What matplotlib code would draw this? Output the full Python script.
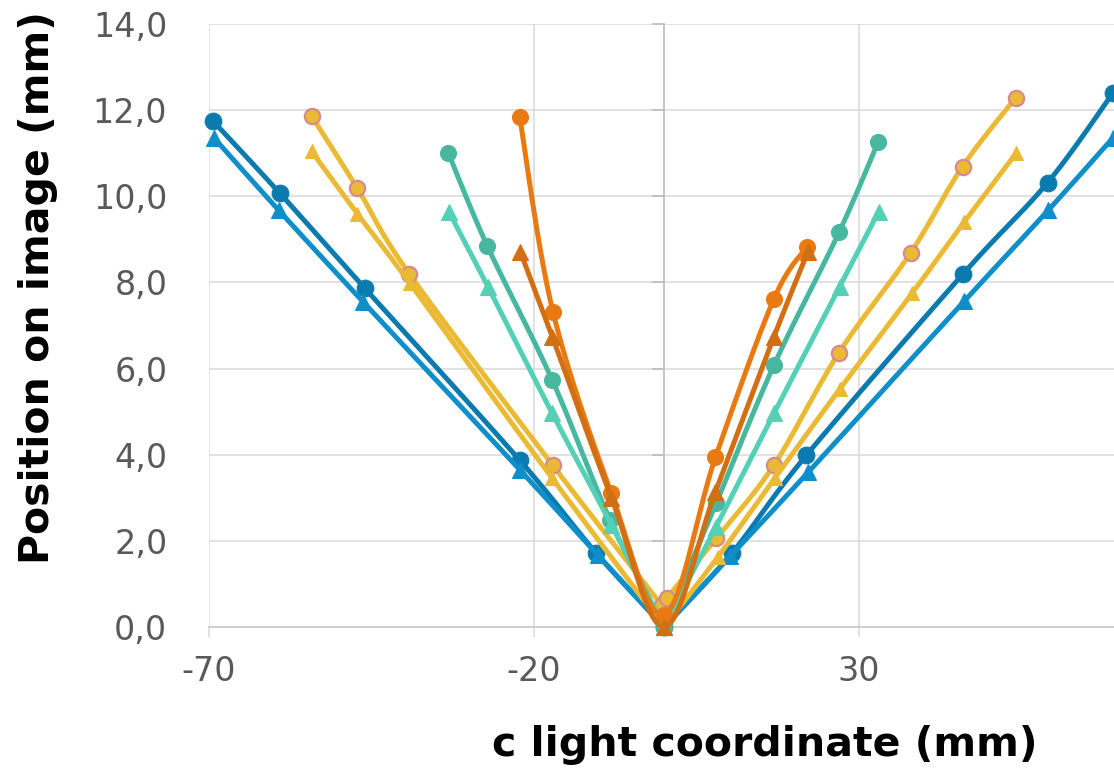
import numpy as np
import matplotlib
matplotlib.use("Agg")
import matplotlib.pyplot as plt
from matplotlib.ticker import FuncFormatter

# ---------------- data ----------------
x_ticks = [-70, -20, 30, 80]
y_ticks = [0, 2, 4, 6, 8, 10, 12, 14]

# dark blue circles
s1_x = [-69.4, -59.1, -46.0, -22.2, -10.4, 0.0, 10.4, 21.9, 46.0, 59.0, 69.0]
s1_y = [11.75, 10.07, 7.86, 3.87, 1.71, 0.0, 1.71, 3.99, 8.20, 10.32, 12.39]
# light blue triangles
s2_x = [-69.2, -59.3, -46.3, -22.2, -10.2, 0.0, 10.2, 22.2, 46.2, 59.1, 69.0]
s2_y = [11.35, 9.68, 7.55, 3.65, 1.67, 0.0, 1.65, 3.60, 7.57, 9.68, 11.35]
# yellow circles (pink edge)
s3_x = [-54.2, -47.2, -39.2, -17.1, -0.4, 0.4, 8.05, 16.9, 26.9, 37.9, 45.9, 54.1]
s3_y = [11.86, 10.19, 8.20, 3.75, 0.51, 0.67, 2.06, 3.76, 6.37, 8.68, 10.69, 12.29]
# yellow triangles
s4_x = [-54.2, -47.2, -39.1, -17.2, 0.0, 8.3, 17.0, 27.0, 38.2, 46.2, 54.2]
s4_y = [11.04, 9.60, 7.98, 3.45, 0.0, 1.63, 3.45, 5.52, 7.76, 9.41, 11.01]
# teal circles
s5_x = [-33.2, -27.2, -17.2, -8.3, 0.0, 8.0, 16.9, 26.9, 32.9]
s5_y = [11.01, 8.85, 5.73, 2.48, 0.0, 2.87, 6.08, 9.16, 11.25]
# light teal triangles
s6_x = [-33.1, -27.1, -17.2, -8.1, 0.0, 8.0, 16.9, 27.0, 33.0]
s6_y = [9.64, 7.90, 4.96, 2.37, 0.0, 2.33, 4.96, 7.90, 9.64]
# orange circles
s7_x = [-22.2, -17.1, -8.1, 0.0, 7.9, 16.9, 22.0]
s7_y = [11.83, 7.32, 3.10, 0.28, 3.94, 7.62, 8.83]
# dark orange triangles
s8_x = [-22.1, -17.2, -8.1, 0.0, 7.9, 16.9, 22.1]
s8_y = [8.71, 6.74, 3.00, 0.0, 3.14, 6.74, 8.71]

# (x, y, colour, marker, edge colour, marker size, smooth through the vertex?)
series = [
    (s1_x, s1_y, "#0B7BAF", "o", "#0B7BAF", 12.0, False),
    (s2_x, s2_y, "#0F8FC9", "^", "#0F8FC9", 11.0, False),
    (s3_x, s3_y, "#EBBA34", "o", "#D48A8E", 11.0, False),
    (s4_x, s4_y, "#EBBA34", "^", "#EBBA34", 10.5, False),
    (s5_x, s5_y, "#47B89F", "o", "#47B89F", 11.5, False),
    (s6_x, s6_y, "#53D0B5", "^", "#53D0B5", 11.0, False),
    (s7_x, s7_y, "#E97A12", "o", "#E97A12", 11.5, True),
    (s8_x, s8_y, "#D26E13", "^", "#D26E13", 11.0, True),
]


def smooth(xs, ys, n=24):
    pts = np.column_stack([xs, ys]).astype(float)
    out = [pts[0]]
    for i in range(len(pts) - 1):
        p0 = pts[i - 1] if i > 0 else pts[i]
        p1 = pts[i]
        p2 = pts[i + 1]
        p3 = pts[i + 2] if i + 2 < len(pts) else pts[i + 1]
        c1 = p1 + (p2 - p0) / 6.0
        c2 = p2 - (p3 - p1) / 6.0
        t = np.linspace(0, 1, n)[1:, None]
        seg = ((1 - t) ** 3) * p1 + 3 * ((1 - t) ** 2) * t * c1 + 3 * (1 - t) * (t ** 2) * c2 + (t ** 3) * p2
        out.extend(seg)
    out = np.array(out)
    return out[:, 0], out[:, 1]


W, H = 1114, 770
fig = plt.figure(figsize=(W / 100, H / 100), dpi=100)
ax = fig.add_axes([209 / W, 143 / H, (W - 209) / W, 603 / H])

xmin, xmax = -70, 69.2
ax.set_xlim(xmin, xmax)
ax.set_ylim(0, 14)

for z, (xs, ys, col, mk, ec, ms, through) in enumerate(series):
    if through:
        parts = [(xs, ys)]
    else:
        k = int(np.argmin(ys))
        parts = [(xs[:k + 1], ys[:k + 1]), (xs[k:], ys[k:])]
    for px, py in parts:
        sx, sy = smooth(px, py)
        ax.plot(sx, sy, color=col, lw=3.6, solid_capstyle="round", solid_joinstyle="round",
                zorder=3 + z * 0.1)
    ax.plot(xs, ys, linestyle="none", marker=mk, markersize=ms, markerfacecolor=col,
            markeredgecolor=ec, markeredgewidth=1.6 if ec != col else 0.8,
            zorder=3.05 + z * 0.1, clip_on=False)

# grid and axes styling
ax.set_xticks(x_ticks)
ax.set_yticks(y_ticks)
ax.set_xlim(xmin, xmax)
ax.grid(True, color="#D9D9D9", lw=1.1)
ax.set_axisbelow(True)
for s in ["top", "right", "left"]:
    ax.spines[s].set_visible(False)
ax.spines["bottom"].set_color("#CCCCCC")
ax.spines["bottom"].set_linewidth(1.3)

ax.yaxis.set_major_formatter(FuncFormatter(lambda v, p: f"{v:.1f}".replace(".", ",")))
ax.xaxis.set_major_formatter(FuncFormatter(lambda v, p: f"{v:.0f}"))
ax.tick_params(axis="y", length=0, pad=30, labelsize=24, labelcolor="#595959")
ax.tick_params(axis="x", direction="out", length=7, width=1.1, color="#D9D9D9",
               pad=13, labelsize=24, labelcolor="#595959")

# vertical axis line at x = 0
frac = (0 - xmin) / (xmax - xmin)
sec = ax.secondary_yaxis(frac)
sec.set_alignment("left")
sec.patch.set_visible(False)
sec.set_yticks(y_ticks)
sec.set_yticklabels([])
sec.tick_params(axis="y", direction="out", length=9, width=1.3, color="#BFBFBF")
for s in sec.spines.values():
    s.set_color("#BFBFBF")
    s.set_linewidth(1.3)
sec.set_zorder(1.5)

fig.text(38 / W, 1 - 288 / H, "Position on image (mm)", rotation=90, ha="center", va="center",
         fontsize=29.5, fontweight="bold", color="#000000")
fig.text(765 / W, 1 - 745 / H, "c light coordinate (mm)", ha="center", va="center",
         fontsize=29.5, fontweight="bold", color="#000000")

fig.savefig("out.png", dpi=100)
